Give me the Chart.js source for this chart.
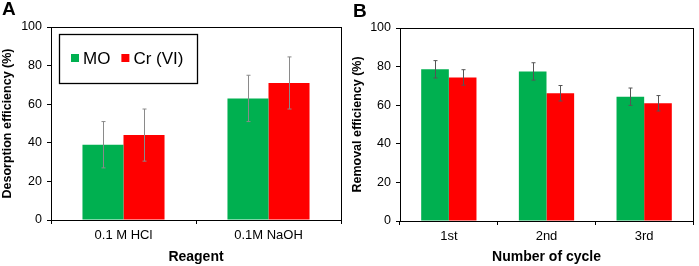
<!DOCTYPE html>
<html><head><meta charset="utf-8">
<script src="https://cdn.jsdelivr.net/npm/chart.js@4"></script>
<style>
html,body{margin:0;padding:0;background:#fff;width:699px;height:266px;overflow:hidden;}
.pane{position:absolute;top:0;height:266px;}
.lbl{position:absolute;font:bold 19px "Liberation Sans",Arial,sans-serif;color:#000;line-height:1;}
</style></head><body>
<div class="pane" style="left:0;width:350px"><canvas id="cA" width="350" height="266"></canvas></div>
<div class="pane" style="left:350px;width:349px"><canvas id="cB" width="349" height="266"></canvas></div>
<div class="lbl" style="left:2px;top:-1px">A</div>
<div class="lbl" style="left:353px;top:1px">B</div>
<script>
// Panel A data
const reagents = ["0.1 M HCl", "0.1M NaOH"];
const desorbMO = [39, 63];
const desorbMOErr = [12, 12];
const desorbCr = [44, 71];
const desorbCrErr = [13.5, 13.5];
// Panel B data
const cycles = ["1st", "2nd", "3rd"];
const removalMO = [78.6, 77.5, 64.4];
const removalMOErr = [4.5, 4.5, 4.5];
const removalCr = [74.4, 66.2, 61.0];
const removalCrErr = [4, 4, 4];
const yTicks = [0, 20, 40, 60, 80, 100];

const FONT = '"Liberation Sans", Arial, sans-serif';
const GREEN = '#00B050', RED = '#FF0000';

const errorBars = {
  id: 'errorBars',
  afterDatasetsDraw(chart, args, opts) {
    const ctx = chart.ctx, y = chart.scales.y;
    ctx.save();
    ctx.strokeStyle = opts.color; ctx.lineWidth = 1;
    chart.data.datasets.forEach((ds, di) => {
      const meta = chart.getDatasetMeta(di);
      meta.data.forEach((bar, i) => {
        const v = ds.data[i], e = ds.err[i];
        const x = Math.round(bar.x) + 0.5;
        const yt = y.getPixelForValue(v + e), yb = y.getPixelForValue(v - e);
        ctx.beginPath();
        ctx.moveTo(x, yt); ctx.lineTo(x, yb);
        ctx.moveTo(x - 2, yt); ctx.lineTo(x + 2, yt);
        ctx.moveTo(x - 2, yb); ctx.lineTo(x + 2, yb);
        ctx.stroke();
      });
    });
    ctx.restore();
  }
};

const frame = {
  id: 'frame',
  afterDraw(chart) {
    const a = chart.chartArea, ctx = chart.ctx;
    ctx.save();
    ctx.strokeStyle = '#000'; ctx.lineWidth = 1;
    ctx.strokeRect(Math.round(a.left) + 0.5, Math.round(a.top) + 0.5,
      Math.round(a.right - a.left), Math.round(a.bottom - a.top));
    ctx.restore();
  }
};

const boxLegend = {
  id: 'boxLegend',
  afterDraw(chart, args, opts) {
    if (!opts.show) return;
    const ctx = chart.ctx, a = chart.chartArea;
    const x0 = a.left + 8, y0 = 34, w = 138, h = 49;
    ctx.save();
    ctx.fillStyle = '#fff';
    ctx.fillRect(x0, y0, w, h);
    ctx.strokeStyle = '#000'; ctx.lineWidth = 1.3;
    ctx.strokeRect(x0 + 0.5, y0 + 0.5, w, h);
    ctx.font = '17px ' + FONT;
    ctx.textBaseline = 'middle';
    let x = x0 + 12;
    const cy = y0 + 25;
    chart.data.datasets.forEach((ds) => {
      ctx.fillStyle = ds.backgroundColor;
      ctx.fillRect(x, cy - 5, 8, 8);
      x += 12;
      ctx.fillStyle = '#000';
      ctx.fillText(ds.label, x, cy);
      x += ctx.measureText(ds.label).width + 11;
    });
    ctx.restore();
  }
};

function makeChart(id, labels, mo, moErr, cr, crErr, yTitle, xTitle, legend, pad, yW, xH, errColor) {
  return new Chart(document.getElementById(id), {
    type: 'bar',
    data: {
      labels: labels,
      datasets: [
        { label: 'MO', data: mo, err: moErr, backgroundColor: GREEN },
        { label: 'Cr (VI)', data: cr, err: crErr, backgroundColor: RED }
      ]
    },
    options: {
      responsive: false, animation: false,
      layout: { padding: pad },
      datasets: { bar: { categoryPercentage: 0.566, barPercentage: 1.0 } },
      plugins: {
        legend: { display: false }, tooltip: { enabled: false },
        errorBars: { color: errColor },
        boxLegend: { show: legend }
      },
      scales: {
        x: {
          grid: { display: true, drawOnChartArea: false, drawTicks: true, tickLength: 4, color: '#000', offset: true },
          border: { display: true, color: '#000' },
          ticks: { color: '#000', font: { family: FONT, size: 13 }, padding: 4, maxRotation: 0 },
          title: { display: true, text: xTitle, color: '#000', font: { family: FONT, size: 14, weight: 'bold' }, padding: { top: 3, bottom: 0 } },
          afterFit(s) { s.height = xH; }
        },
        y: {
          min: 0, max: 100,
          afterBuildTicks(s) { s.ticks = yTicks.map(v => ({ value: v })); },
          grid: { display: true, drawOnChartArea: false, drawTicks: true, tickLength: 4, color: '#000' },
          border: { display: true, color: '#000' },
          ticks: { color: '#000', font: { family: FONT, size: 12.5 }, padding: 5 },
          title: { display: true, text: yTitle, color: '#000', font: { family: FONT, size: 12.5, weight: 'bold' }, padding: { top: 0, bottom: 2 } },
          afterFit(s) { s.width = yW; }
        }
      }
    },
    plugins: [errorBars, frame, boxLegend]
  });
}

makeChart('cA', reagents, desorbMO, desorbMOErr, desorbCr, desorbCrErr,
  'Desorption efficiency (%)', 'Reagent', true,
  { top: 27, right: 9, left: 0, bottom: 0 }, 51, 46, '#8a8a8a');
makeChart('cB', cycles, removalMO, removalMOErr, removalCr, removalCrErr,
  'Removal efficiency (%)', 'Number of cycle', false,
  { top: 28, right: 6, left: 0, bottom: 0 }, 50, 45, '#555');
</script>
</body></html>
